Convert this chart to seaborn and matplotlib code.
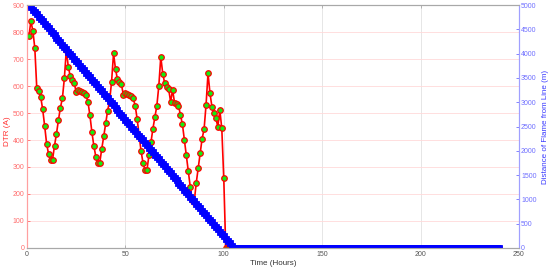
import matplotlib
matplotlib.use("Agg")
import matplotlib.pyplot as plt
import seaborn as sns
import pandas as pd

# ---------------- data ----------------
time_hours = list(range(1, 241))

dtr_active = [785, 840, 805, 740, 591, 583, 559, 513, 452, 386,
              347, 327, 327, 379, 423, 474, 520, 554, 628, 733,
              672, 636, 621, 611, 578, 585, 580, 578, 575, 566,
              541, 491, 429, 378, 338, 316, 316, 367, 413, 462,
              509, 545, 616, 721, 662, 625, 616, 606, 567, 575,
              569, 567, 563, 554, 527, 478, 416, 358, 314, 290,
              290, 344, 391, 442, 485, 527, 600, 708, 646, 610,
              597, 588, 542, 585, 538, 533, 527, 493, 458, 400,
              344, 285, 225, 178, 172, 240, 296, 353, 405, 440,
              530, 647, 573, 523, 501, 480, 449, 511, 443, 258]
dtr_after = [0] * 140
dtr_values = dtr_active + dtr_after

distance_active = [5000, 4952, 4904, 4856, 4808, 4760, 4712, 4663, 4615, 4567,
                   4519, 4471, 4423, 4375, 4327, 4279, 4231, 4183, 4135, 4087,
                   4038, 3990, 3942, 3894, 3846, 3798, 3750, 3702, 3654, 3606,
                   3558, 3510, 3462, 3413, 3365, 3317, 3269, 3221, 3173, 3125,
                   3077, 3029, 2981, 2933, 2885, 2837, 2788, 2740, 2692, 2644,
                   2596, 2548, 2500, 2452, 2404, 2356, 2308, 2260, 2212, 2163,
                   2115, 2067, 2019, 1971, 1923, 1875, 1827, 1779, 1731, 1683,
                   1635, 1587, 1538, 1490, 1442, 1394, 1346, 1298, 1250, 1202,
                   1154, 1106, 1058, 1010, 962, 913, 865, 817, 769, 721,
                   673, 625, 577, 529, 481, 433, 385, 337, 288, 240,
                   192, 144, 96, 48, 0]
distance_after = [0] * 135
distance_values = distance_active + distance_after

x_ticks = [0, 50, 100, 150, 200, 250]
dtr_ticks = [0, 100, 200, 300, 400, 500, 600, 700, 800, 900]
dist_ticks = [0, 500, 1000, 1500, 2000, 2500, 3000, 3500, 4000, 4500, 5000]

df_red = pd.DataFrame({"time": time_hours, "dtr": dtr_values})
df_blue = pd.DataFrame({"time": time_hours, "dist": distance_values})

# ---------------- style ----------------
sns.set_theme(style="white")
plt.rcParams["font.family"] = ["Liberation Sans", "DejaVu Sans"]

RED_TICK = "#ff6b6b"
RED_LAB = "#ff3030"
BLUE_TICK = "#6f6fff"
BLUE_LAB = "#3a3aff"
GREY = "#555555"

fig = plt.figure(figsize=(5.5, 2.71), dpi=100)
ax = fig.add_axes([0.049, 0.0849, 0.8946, 0.8966])
ax2 = ax.twinx()

sns.lineplot(data=df_red, x="time", y="dtr", ax=ax, color="red", lw=1.2,
             marker="o", markersize=4.0, markerfacecolor="#11ee11",
             markeredgecolor="red", markeredgewidth=0.9, errorbar=None,
             legend=False)
sns.lineplot(data=df_blue, x="time", y="dist", ax=ax2, color="blue", lw=2.0,
             marker="s", markersize=4.2, markerfacecolor="blue",
             markeredgecolor="blue", markeredgewidth=0.6, errorbar=None,
             legend=False)

ax.set_xlim(0, 250)
ax.set_ylim(0, 900)
ax2.set_ylim(0, 5000)
ax.set_xticks(x_ticks)
ax.set_yticks(dtr_ticks)
ax2.set_yticks(dist_ticks)
ax.set_xticklabels([str(v) for v in x_ticks])
ax.set_yticklabels([str(v) for v in dtr_ticks])
ax2.set_yticklabels([str(v) for v in dist_ticks])

# grids
ax.set_axisbelow(True)
ax.yaxis.grid(True, color="#ffd9d9", lw=0.6)
ax.xaxis.grid(True, color="#e2e2e2", lw=0.6)
ax2.grid(False)

# spines
for a in (ax, ax2):
    a.spines["top"].set_color("#a8a8a8")
    a.spines["bottom"].set_color("#a8a8a8")
    a.spines["left"].set_color("#ffa0a0")
    a.spines["right"].set_color("#a0a0ff")
    for s in a.spines.values():
        s.set_linewidth(0.8)

ax.tick_params(axis="x", which="both", direction="in", length=2.5, width=0.6,
               colors="#a8a8a8", labelcolor=GREY, labelsize=5, pad=2.5,
               top=True, bottom=True)
ax.tick_params(axis="y", direction="in", length=2.5, width=0.6,
               colors=RED_TICK, labelcolor=RED_TICK, labelsize=5, pad=2,
               left=True, right=False)
ax2.tick_params(axis="y", direction="in", length=2.5, width=0.6,
                colors=BLUE_TICK, labelcolor=BLUE_TICK, labelsize=5, pad=1.5,
                right=True, left=False)

ax.set_xlabel("Time (Hours)", fontsize=5.8, color="#333333")
ax.set_ylabel("DTR (A)", fontsize=5.8, color=RED_LAB)
ax2.set_ylabel("Distance of Flame from Line (m)", fontsize=5.8, color=BLUE_LAB)
ax.xaxis.set_label_coords(0.5, -0.05)
ax.yaxis.set_label_coords(-0.032, 0.48)
ax2.yaxis.set_label_coords(1.046, 0.5)

fig.savefig("out.png", dpi=100)
